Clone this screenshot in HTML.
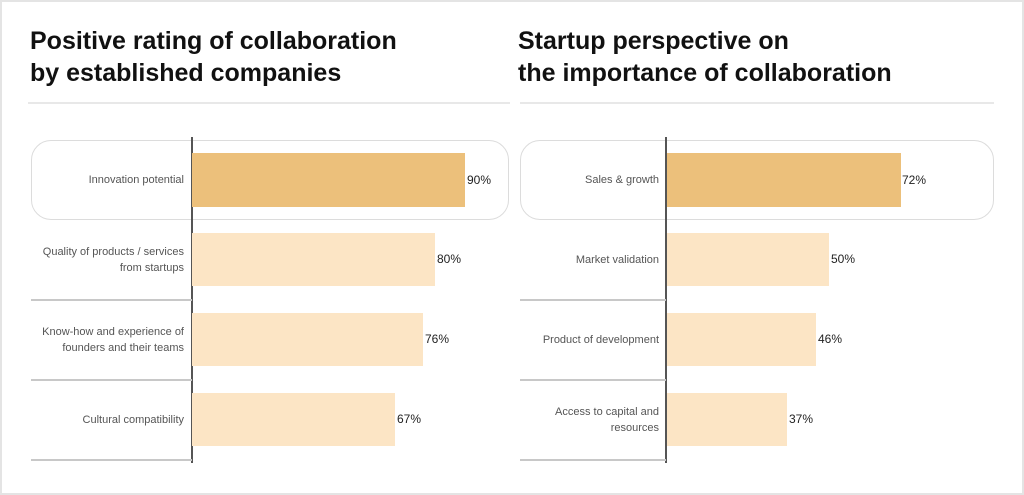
<!DOCTYPE html>
<html><head><meta charset="utf-8"><style>
*{margin:0;padding:0;box-sizing:border-box}
body{width:1024px;height:495px;background:#fff;position:relative;overflow:hidden;font-family:"Liberation Sans",sans-serif}
.frame{position:absolute;left:0;top:0;width:1024px;height:495px;border:2px solid #e4e4e4}
.a{position:absolute}
.title{font-size:25px;font-weight:bold;line-height:32px;color:#111;letter-spacing:0px;white-space:nowrap}
.div{height:2px;background:#e8e8e8}
.box{border:1.5px solid #dcdcdc;border-radius:20px}
.axis{width:1.5px;background:#555}
.sep{height:1.5px;background:#c8c8c8}
.lab{font-size:11px;color:#555;text-align:right;line-height:16px;display:flex;align-items:center;justify-content:flex-end}
.val{font-size:12px;color:#222;line-height:54px}
.b1{background:#ecc07b}
.b2{background:#fce5c5}
</style></head><body>
<div class="frame"></div>

<div class="a title" style="left:30px;top:25px">Positive rating of collaboration<br>by established companies</div>
<div class="a div" style="left:28px;top:102px;width:482px"></div>
<div class="a box" style="left:31px;top:140px;width:478px;height:80px"></div>
<div class="a axis" style="left:191px;top:137px;height:326px"></div>
<div class="a sep" style="left:31px;top:299px;width:161px"></div>
<div class="a sep" style="left:31px;top:379px;width:161px"></div>
<div class="a sep" style="left:31px;top:459px;width:161px"></div>
<div class="a b1" style="left:192px;top:153px;width:273px;height:54px"></div>
<div class="a b2" style="left:192px;top:233px;width:243px;height:53px"></div>
<div class="a b2" style="left:192px;top:313px;width:231px;height:53px"></div>
<div class="a b2" style="left:192px;top:393px;width:203px;height:53px"></div>
<div class="a val" style="left:467px;top:153px">90%</div>
<div class="a val" style="left:437px;top:232px">80%</div>
<div class="a val" style="left:425px;top:312px">76%</div>
<div class="a val" style="left:397px;top:392px">67%</div>
<div class="a lab" style="left:20px;top:153px;width:164px;height:54px">Innovation potential</div>
<div class="a lab" style="left:20px;top:233px;width:164px;height:53px">Quality of products / services<br>from startups</div>
<div class="a lab" style="left:20px;top:313px;width:164px;height:53px">Know-how and experience of<br>founders and their teams</div>
<div class="a lab" style="left:20px;top:393px;width:164px;height:53px">Cultural compatibility</div>

<div class="a title" style="left:518px;top:25px">Startup perspective on<br>the importance of collaboration</div>
<div class="a div" style="left:520px;top:102px;width:474px"></div>
<div class="a box" style="left:520px;top:140px;width:474px;height:80px"></div>
<div class="a axis" style="left:665px;top:137px;height:326px"></div>
<div class="a sep" style="left:520px;top:299px;width:146px"></div>
<div class="a sep" style="left:520px;top:379px;width:146px"></div>
<div class="a sep" style="left:520px;top:459px;width:146px"></div>
<div class="a b1" style="left:667px;top:153px;width:234px;height:54px"></div>
<div class="a b2" style="left:667px;top:233px;width:162px;height:53px"></div>
<div class="a b2" style="left:667px;top:313px;width:149px;height:53px"></div>
<div class="a b2" style="left:667px;top:393px;width:120px;height:53px"></div>
<div class="a val" style="left:902px;top:153px">72%</div>
<div class="a val" style="left:831px;top:232px">50%</div>
<div class="a val" style="left:818px;top:312px">46%</div>
<div class="a val" style="left:789px;top:392px">37%</div>
<div class="a lab" style="left:520px;top:153px;width:139px;height:54px">Sales &amp; growth</div>
<div class="a lab" style="left:520px;top:233px;width:139px;height:53px">Market validation</div>
<div class="a lab" style="left:520px;top:313px;width:139px;height:53px">Product of development</div>
<div class="a lab" style="left:520px;top:393px;width:139px;height:53px">Access to capital and<br>resources</div>
</body></html>
